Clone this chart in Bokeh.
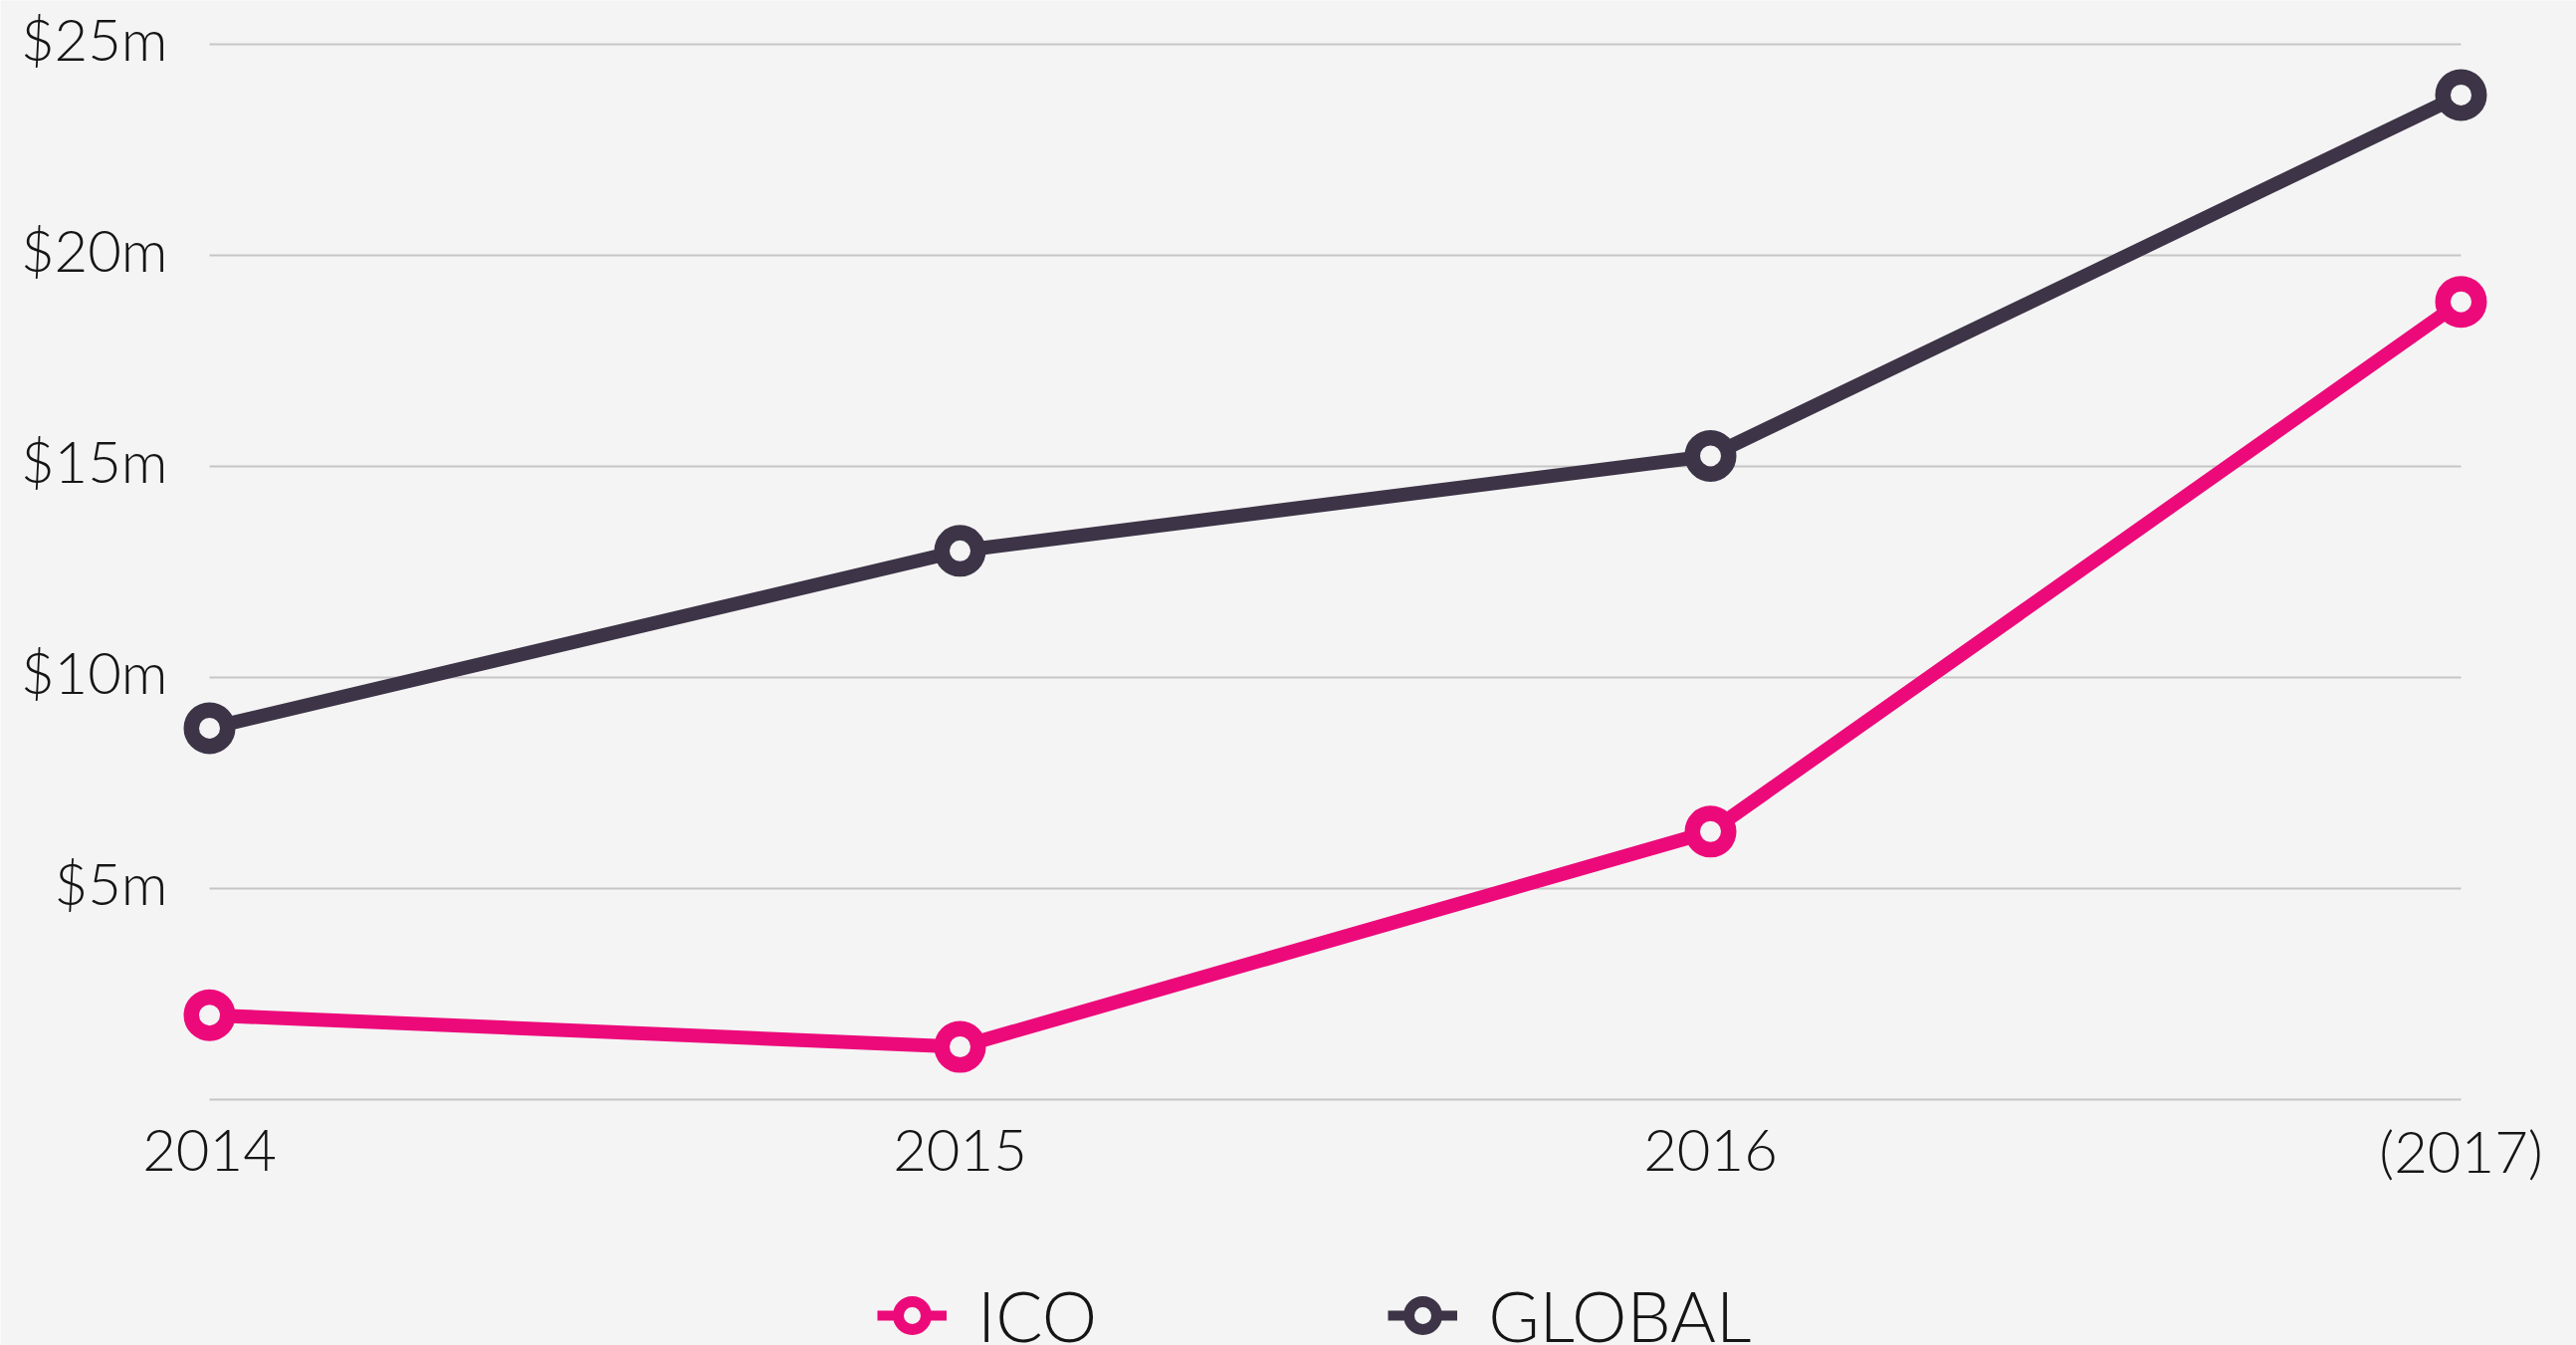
from bokeh.plotting import figure
from bokeh.models import Range1d, ColumnDataSource, Legend, LegendItem
from bokeh.core.properties import value
from bokeh.embed import file_html
from bokeh.resources import INLINE

# ---- data ----
years = [2014, 2015, 2016, 2017]
year_labels = ["2014", "2015", "2016", "(2017)"]
ico = [2.0, 1.25, 6.35, 18.9]
global_vals = [8.8, 13.0, 15.25, 23.8]
y_ticks = [0, 5, 10, 15, 20, 25]
y_tick_labels = ["", "$5m", "$10m", "$15m", "$20m", "$25m"]
series_names = ["ICO", "GLOBAL"]

# ---- style ----
BG = "#f4f4f4"
PINK = "#ec0a7a"
DARK = "#3d3447"
GRID = "#c6c6c6"
FONT = "'Lato Light', Lato"
TXT = "#151515"

W, H = 2588, 1351
px_per_year = 754.0
px_per_unit = 42.4
left_pad, right_pad = 210, W - 2472
top_pad, bottom_pad = 44, H - 1104

x_range = Range1d(years[0] - left_pad / px_per_year, years[-1] + right_pad / px_per_year)
y_range = Range1d(0 - bottom_pad / px_per_unit, 25 + top_pad / px_per_unit)

p = figure(width=W, height=H, x_range=x_range, y_range=y_range,
           output_backend="svg", toolbar_location=None,
           x_axis_location=None, y_axis_location=None,
           min_border=0, min_border_left=0, min_border_right=0,
           min_border_top=0, min_border_bottom=0)
p.background_fill_color = BG
p.border_fill_color = BG
p.outline_line_color = None
p.grid.visible = False

# gridlines
grid_src = ColumnDataSource(dict(x0=[years[0]] * len(y_ticks), x1=[years[-1]] * len(y_ticks), y=y_ticks))
p.segment(x0="x0", x1="x1", y0="y", y1="y", source=grid_src, line_color=GRID, line_width=2)

# y labels
ylab_src = ColumnDataSource(dict(x=[years[0]] * len(y_ticks), y=y_ticks, t=y_tick_labels))
p.text(x="x", y="y", text="t", source=ylab_src, text_align="right", text_baseline="middle",
       x_offset=-42, y_offset=-6, text_font=value(FONT), text_font_size="58px", text_color=TXT)

# x labels
xlab_src = ColumnDataSource(dict(x=years, y=[0] * len(years), t=year_labels))
p.text(x="x", y="y", text="t", source=xlab_src, text_align="center", text_baseline="middle",
       y_offset=51, text_font=value(FONT), text_font_size="58px", text_color=TXT)

# series
src = ColumnDataSource(dict(x=years, ico=ico, glob=global_vals))
p.line("x", "glob", source=src, line_color=DARK, line_width=14)
p.line("x", "ico", source=src, line_color=PINK, line_width=14)
p.scatter("x", "glob", source=src, marker="circle", size=36.5, line_width=15.5,
          line_color=DARK, fill_color=BG)
p.scatter("x", "ico", source=src, marker="circle", size=36.5, line_width=15.5,
          line_color=PINK, fill_color=BG)

# legend-only renderers (a single undrawn point each)
nan = float("nan")
leg_src = ColumnDataSource(dict(x=[nan], y=[nan]))
leg_ico_l = p.line("x", "y", source=leg_src, line_width=10, line_color=PINK)
leg_ico = p.scatter("x", "y", source=leg_src, marker="circle", line_width=11, line_color=PINK, fill_color=BG)
leg_glob_l = p.line("x", "y", source=leg_src, line_width=10, line_color=DARK)
leg_glob = p.scatter("x", "y", source=leg_src, marker="circle", line_width=11, line_color=DARK, fill_color=BG)

legend = Legend(items=[LegendItem(label=series_names[0], renderers=[leg_ico_l, leg_ico], index=0),
                       LegendItem(label=series_names[1], renderers=[leg_glob_l, leg_glob], index=0)],
                orientation="horizontal", location=(881, -12),
                glyph_width=70, glyph_height=70, label_standoff=31, spacing=292,
                padding=0, margin=0, border_line_color=None, background_fill_alpha=0,
                label_text_font=FONT, label_text_font_size="70px", label_text_color=TXT,
                label_text_baseline="middle")
p.add_layout(legend, "center")

open("out.html", "w").write(file_html(p, INLINE))
